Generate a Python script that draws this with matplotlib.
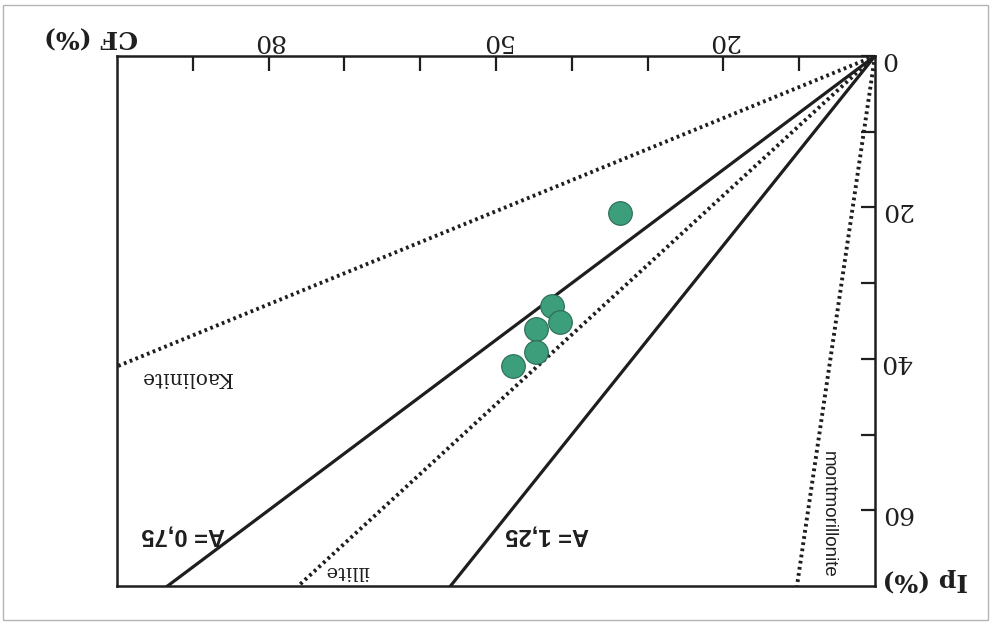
import matplotlib

matplotlib.use("Agg")

import matplotlib.pyplot as plt
from matplotlib.patches import Rectangle

# sample points (CF %, Ip %)
cf_values = [33.7, 42.6, 41.6, 44.7, 44.7, 47.7]
ip_values = [20.8, 33.0, 35.1, 36.1, 39.1, 41.0]

# activity lines Ip = A * CF
solid_slopes = [0.75, 1.25]
mineral_names = ["Kaolinite", "illite", "montmorillonite"]
mineral_slopes = [0.41, 0.92, 6.8]

cf_ticks = list(range(10, 100, 10))
cf_labels = ["20", "50", "80"]
ip_ticks = list(range(0, 70, 10))
ip_labels = ["0", "20", "40", "60"]

INK = "#1e1e1e"
GREEN = "#3c9e7b"

fig = plt.figure(figsize=(9.92, 6.3), dpi=100)
ax = fig.add_axes([117 / 992, 1 - 586 / 630, 758 / 992, 530 / 630])
ax.set_xlim(100, 0)
ax.set_ylim(70, 0)

for slope in solid_slopes:
    ax.axline((0, 0), slope=slope, color=INK, lw=2.3, zorder=2)
for slope in mineral_slopes:
    ax.axline((0, 0), slope=slope, color=INK, lw=2.8, ls=(0, (0.7, 0.9)), zorder=2)

ax.scatter(cf_values, ip_values, s=290, color=GREEN, edgecolor="#2b6b55", lw=0.8, zorder=3)

ax.xaxis.tick_top()
ax.yaxis.tick_right()
ax.set_xticks(cf_ticks, [str(v) if str(v) in cf_labels else "" for v in cf_ticks])
ax.set_yticks(ip_ticks, [str(v) if str(v) in ip_labels else "" for v in ip_ticks])
ax.tick_params(direction="in", width=1.6, color=INK, labelsize=18, labelcolor=INK)
ax.tick_params(axis="x", length=11, pad=3, labelrotation=180)
ax.tick_params(axis="y", length=10, pad=4, labelrotation=180)
for lab in ax.get_xticklabels() + ax.get_yticklabels():
    lab.set_family("DejaVu Serif")
for spine in ax.spines.values():
    spine.set_linewidth(1.8)
    spine.set_color(INK)

serif = dict(family="DejaVu Serif", color=INK, ha="center", va="center", rotation=180)
ax.text(103.4, -2.5, "CF (%)", fontsize=18, fontweight="bold", clip_on=False, **serif)
ax.text(-6.6, 69.2, "Ip (%)", fontsize=18, fontweight="bold", clip_on=False, **serif)
ax.text(90.9, 42.4, mineral_names[0], fontsize=14.5, **serif)
ax.text(69.6, 68.0, mineral_names[1], fontsize=14, **serif)

sans = dict(family="Liberation Sans", color=INK, ha="center", va="center")
ax.text(91.3, 63.3, "A= 0,75", fontsize=17, fontweight="bold", rotation=180, **sans)
ax.text(43.3, 63.3, "A= 1,25", fontsize=17, fontweight="bold", rotation=180, **sans)
ax.text(6.2, 60.6, mineral_names[2], fontsize=13.5, rotation=270, **sans)

fig.patches.append(Rectangle((0.003, 0.016), 0.993, 0.976, transform=fig.transFigure,
                             fill=False, ec="#b4b4b4", lw=1.0))

fig.savefig("out.png", dpi=100)
